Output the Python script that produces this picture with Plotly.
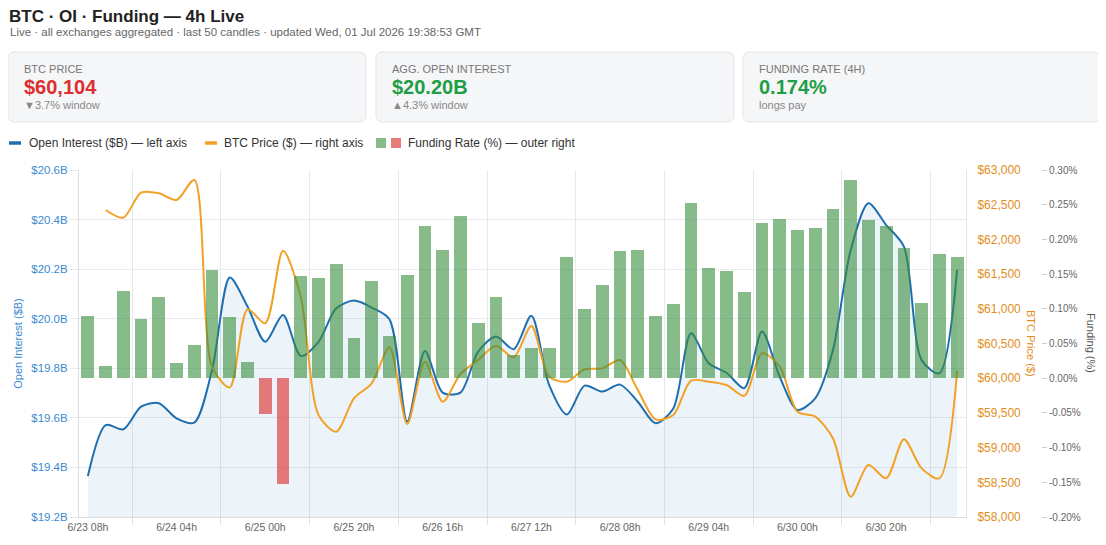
import plotly.graph_objects as go

# 4h candles, oldest first (50 candles)
tick_labels = ["6/23 08h", "6/24 04h", "6/25 00h", "6/25 20h", "6/26 16h",
               "6/27 12h", "6/28 08h", "6/29 04h", "6/30 00h", "6/30 20h"]

open_interest_b = [
    19.365, 19.571, 19.554, 19.645, 19.659, 19.598, 19.581, 19.793, 20.166, 20.049,
    19.907, 20.015, 19.850, 19.907, 20.042, 20.073, 20.045, 19.998, 19.585, 19.870,
    19.702, 19.702, 19.867, 19.928, 19.877, 20.012, 19.733, 19.614, 19.730, 19.706,
    19.734, 19.665, 19.578, 19.638, 19.941, 19.820, 19.782, 19.720, 19.948, 19.766,
    19.632, 19.679, 19.874, 20.277, 20.466, 20.378, 20.291, 19.833, 19.780, 20.197,
]

btc_price = [
    None, 62424, 62313, 62673, 62664, 62568, 62856, 60166, 59868, 60992,
    60791, 61838, 61175, 59470, 59230, 59710, 59926, 60445, 59340, 60238,
    59662, 60060, 60262, 60469, 60301, 60752, 60022, 59950, 60128, 60142,
    60262, 59830, 59407, 59470, 59964, 59950, 59902, 59745, 60358, 60166,
    59518, 59446, 59134, 58293, 58749, 58557, 59119, 58701, 58557, 60104,
]

funding_pct = [
    0.089, 0.018, 0.125, 0.085, 0.117, 0.022, 0.048, 0.156, 0.088, 0.024,
    -0.051, -0.152, 0.147, 0.145, 0.165, 0.058, 0.140, 0.061, 0.148, 0.220,
    0.185, 0.234, 0.080, 0.117, 0.034, 0.044, 0.043, 0.174, 0.100, 0.134,
    0.184, 0.185, 0.089, 0.107, 0.252, 0.159, 0.154, 0.124, 0.223, 0.230,
    0.213, 0.216, 0.244, 0.285, 0.228, 0.220, 0.187, 0.109, 0.179, 0.174,
]

cards = [
    ("BTC PRICE", "$60,104", "▼3.7% window", "#dc2f2f"),
    ("AGG. OPEN INTEREST", "$20.20B", "▲4.3% window", "#1e9e45"),
    ("FUNDING RATE (4H)", "0.174%", "longs pay", "#1e9e45"),
]

funding_ticks = [-0.20, -0.15, -0.10, -0.05, 0.0, 0.05, 0.10, 0.15, 0.20, 0.25, 0.30]

FONT = "Liberation Sans, Arial, sans-serif"
OI_BLUE = "#1f6fb0"
OI_LABEL = "#3a8ad0"
PRICE_ORANGE = "#f2a126"
PRICE_LABEL = "#e38d1c"
GREEN_BAR = "rgba(56,142,60,0.6)"
RED_BAR = "rgba(220,53,53,0.65)"

# page geometry in window pixels; the page body adds an 8px margin
OFF = 8
W, H = 1106 - 2 * OFF, 545 - 2 * OFF
PLOT_LEFT, PLOT_RIGHT, PLOT_TOP, PLOT_BOTTOM = 79, 966, 170, 517
L = PLOT_LEFT - OFF
T = PLOT_TOP - OFF
R = 10
B = H - (PLOT_BOTTOM - OFF)
PW, PH = W - L - R, PLOT_BOTTOM - PLOT_TOP
FUNDING_AXIS_X = 1041


def px(x):
    return (x - PLOT_LEFT) / PW


def py(y):
    return (PLOT_BOTTOM - y) / PH


n = len(open_interest_b)
idx = list(range(n))

fig = go.Figure()

fig.add_trace(go.Scatter(
    x=idx, y=open_interest_b, mode="lines", name="Open Interest ($B)",
    line=dict(color=OI_BLUE, width=2, shape="spline", smoothing=0.8),
    fill="tozeroy", fillcolor="rgba(31,119,180,0.08)",
    yaxis="y", hoverinfo="skip",
))
fig.add_trace(go.Scatter(
    x=idx, y=btc_price, mode="lines", name="BTC Price ($)",
    line=dict(color=PRICE_ORANGE, width=2, shape="spline", smoothing=0.8),
    yaxis="y2", hoverinfo="skip",
))
fig.add_trace(go.Bar(
    x=idx, y=funding_pct, name="Funding Rate (%)", width=0.72,
    marker=dict(color=[GREEN_BAR if v >= 0 else RED_BAR for v in funding_pct],
                line=dict(width=0)),
    yaxis="y3", hoverinfo="skip",
))

grid_pos = [i + 2.5 for i in range(0, n - 1, 5)]

fig.update_layout(
    width=W, height=H,
    margin=dict(l=L, r=R, t=T, b=B, autoexpand=False),
    paper_bgcolor="white", plot_bgcolor="white",
    font=dict(family=FONT, color="#333"),
    showlegend=False,
    bargap=0,
    xaxis=dict(
        domain=[0, px(PLOT_RIGHT)], automargin=False,
        range=[-0.5, n - 0.5],
        tickmode="array", tickvals=list(range(0, n, 5)), ticktext=tick_labels,
        showgrid=False, ticks="", zeroline=False,
        tickfont=dict(size=10.5, color="#666"),
        showline=True, linecolor="#d9dce1", linewidth=1,
        minor=dict(tickmode="array", tickvals=grid_pos, showgrid=True,
                   gridcolor="#e6e8ec", gridwidth=1, ticks="outside",
                   ticklen=7, tickcolor="#e0e2e6"),
    ),
    yaxis=dict(
        automargin=False,
        range=[19.2, 20.6], dtick=0.2, tick0=19.2,
        tickprefix="$", ticksuffix="B", tickformat=".1f",
        tickfont=dict(size=11.5, color=OI_LABEL),
        title=dict(text="Open Interest ($B)", font=dict(size=11, color=OI_LABEL), standoff=6),
        gridcolor="#e9ebee", zeroline=False,
        showline=True, linecolor="#d9dce1",
        ticks="outside", ticklen=8, tickcolor="#e6e8ec",
    ),
    yaxis2=dict(
        overlaying="y", side="right", anchor="x", automargin=False,
        range=[58000, 63000], dtick=500, tick0=58000,
        tickprefix="$", tickformat=",d",
        tickfont=dict(size=12, color=PRICE_LABEL),
        showgrid=False, zeroline=False,
        showline=True, linecolor="#e3e5e9",
        ticks="outside", ticklen=8, tickcolor="rgba(0,0,0,0)",
    ),
    yaxis3=dict(
        overlaying="y", side="right", anchor="free", position=px(FUNDING_AXIS_X),
        automargin=False,
        range=[-0.20, 0.30],
        tickmode="array", tickvals=funding_ticks,
        ticktext=[f"{v:.2f}%" for v in funding_ticks],
        tickfont=dict(size=10, color="#666"),
        showgrid=False, zeroline=False, showline=False,
        ticks="outside", ticklen=5, tickcolor="#cfd2d6",
    ),
)

annotations = [
    dict(x=px(8), y=py(16), text="<b>BTC · OI · Funding — 4h Live</b>",
         borderpad=0, font=dict(size=17, color="#222")),
    dict(x=px(8), y=py(32),
         text="Live · all exchanges aggregated · last 50 candles · updated Wed, 01 Jul 2026 19:38:53 GMT",
         font=dict(size=11.5, color="#666")),
    dict(x=px(1031), y=py(343), text="BTC Price ($)", textangle=90,
         xanchor="center", font=dict(size=11, color=PRICE_LABEL)),
    dict(x=px(1091), y=py(343), text="Funding (%)", textangle=90,
         xanchor="center", font=dict(size=11, color="#555")),
]

shapes = []
card_x = [(8, 366), (376, 734), (743, 1100)]
top, bot, rad = 52, 122, 7
for (x0, x1), (label, value, sub, color) in zip(card_x, cards):
    path = (
        f"M {px(x0 + rad)},{py(top)} L {px(x1 - rad)},{py(top)} "
        f"Q {px(x1)},{py(top)} {px(x1)},{py(top + rad)} "
        f"L {px(x1)},{py(bot - rad)} Q {px(x1)},{py(bot)} {px(x1 - rad)},{py(bot)} "
        f"L {px(x0 + rad)},{py(bot)} Q {px(x0)},{py(bot)} {px(x0)},{py(bot - rad)} "
        f"L {px(x0)},{py(top + rad)} Q {px(x0)},{py(top)} {px(x0 + rad)},{py(top)} Z"
    )
    shapes.append(dict(type="path", path=path, xref="paper", yref="paper",
                       fillcolor="#f5f6f8", line=dict(color="#e3e5e9", width=1),
                       layer="below"))
    annotations += [
        dict(x=px(x0 + 14), y=py(69), text=label,
             font=dict(size=11, color="#777")),
        dict(x=px(x0 + 14), y=py(87), text=f"<b>{value}</b>",
             font=dict(size=20, color=color)),
        dict(x=px(x0 + 14), y=py(105), text=sub,
             font=dict(size=11, color="#888")),
    ]

# custom legend row
ly = 143
shapes += [
    dict(type="line", xref="paper", yref="paper", x0=px(9), x1=px(21), y0=py(ly), y1=py(ly),
         line=dict(color=OI_BLUE, width=3.5)),
    dict(type="line", xref="paper", yref="paper", x0=px(205), x1=px(217), y0=py(ly), y1=py(ly),
         line=dict(color=PRICE_ORANGE, width=3.5)),
    dict(type="rect", xref="paper", yref="paper", x0=px(376), x1=px(386), y0=py(ly - 5), y1=py(ly + 5),
         fillcolor=GREEN_BAR, line=dict(width=0)),
    dict(type="rect", xref="paper", yref="paper", x0=px(391), x1=px(401), y0=py(ly - 5), y1=py(ly + 5),
         fillcolor=RED_BAR, line=dict(width=0)),
]
annotations += [
    dict(x=px(27), y=py(ly), text="Open Interest ($B) — left axis", font=dict(size=12, color="#333")),
    dict(x=px(222), y=py(ly), text="BTC Price ($) — right axis", font=dict(size=12, color="#333")),
    dict(x=px(406), y=py(ly), text="Funding Rate (%) — outer right", font=dict(size=12, color="#333")),
]

for a in annotations:
    a.setdefault("xref", "paper")
    a.setdefault("yref", "paper")
    a.setdefault("xanchor", "left")
    a.setdefault("yanchor", "middle")
    a.setdefault("showarrow", False)

fig.update_layout(annotations=annotations, shapes=shapes)

fig.write_html("out.html")
